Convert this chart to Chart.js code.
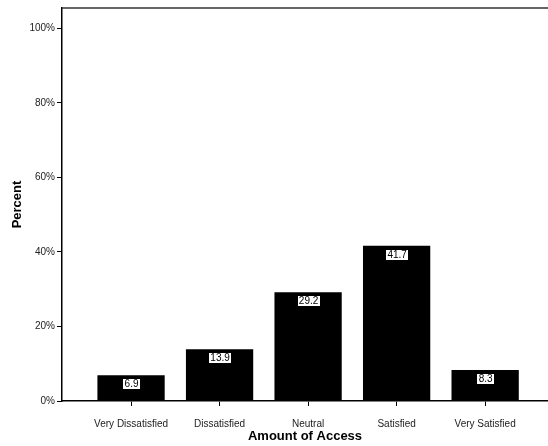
<!DOCTYPE html>
<html>
<head>
<meta charset="utf-8">
<script src="https://cdn.jsdelivr.net/npm/chart.js@4"></script>
<style>
  html, body { margin: 0; padding: 0; background: #fff; }
</style>
</head>
<body>
<canvas id="barChart" width="548" height="446"></canvas>
<script>
// Amount of Access - percent of respondents
const categories = ["Very Dissatisfied", "Dissatisfied", "Neutral", "Satisfied", "Very Satisfied"];
const percents = [6.9, 13.9, 29.2, 41.7, 8.3];
const yTicks = [0, 20, 40, 60, 80, 100];

const font = "'Liberation Sans', Arial, sans-serif";

// white boxed value label just under the top of each bar
const barLabels = {
  id: "barLabels",
  afterDatasetsDraw(chart) {
    const c = chart.ctx;
    const meta = chart.getDatasetMeta(0);
    c.save();
    c.font = "10px " + font;
    c.textAlign = "center";
    c.textBaseline = "middle";
    meta.data.forEach((bar, i) => {
      const txt = percents[i].toFixed(1);
      const w = Math.round(c.measureText(txt).width + 4);
      const h = 11;
      const left = Math.round(bar.x - w / 2);
      const top = Math.round(bar.y + 3);
      c.fillStyle = "#fff";
      c.fillRect(left, top, w, h);
      c.strokeStyle = "#000";
      c.lineWidth = 1;
      c.strokeRect(left + 0.5, top + 0.5, w, h);
      c.fillStyle = "#000";
      c.fillText(txt, bar.x + 0.5, top + h / 2 + 1);
    });
    c.restore();
  }
};

// line along the top of the plot frame
const topLine = {
  id: "topLine",
  afterDraw(chart) {
    const a = chart.chartArea;
    const c = chart.ctx;
    c.save();
    c.strokeStyle = "#333";
    c.lineWidth = 1.5;
    c.beginPath();
    c.moveTo(a.left, a.top);
    c.lineTo(a.right, a.top);
    c.stroke();
    c.restore();
  }
};

const ctx = document.getElementById("barChart");

const chart = new Chart(ctx, {
  type: "bar",
  data: {
    datasets: [
      {
        data: percents.map((v, i) => ({ x: i, y: v })),
        backgroundColor: "#000",
        borderWidth: 0,
        barPercentage: 0.76,
        categoryPercentage: 1,
      },
    ],
  },
  options: {
    responsive: false,
    animation: false,
    layout: { padding: { top: 8, right: 0, left: 0, bottom: 0 } },
    plugins: {
      legend: { display: false },
      tooltip: { enabled: false },
    },
    scales: {
      x: {
        type: "linear",
        offset: false,
        min: -0.78,
        max: 4.71,
        afterBuildTicks: (s) => { s.ticks = categories.map((c, i) => ({ value: i })); },
        afterFit: (s) => { s.height = 45; },
        ticks: {
          callback: (v) => categories[v],
          color: "#222",
          font: { family: font, size: 10 },
          padding: 12,
          maxRotation: 0,
        },
        grid: { offset: false, drawOnChartArea: false, color: "#000", tickLength: 5 },
        border: { color: "#000", width: 1.5 },
        title: {
          display: true,
          text: "Amount of Access",
          color: "#000",
          font: { family: font, size: 13, weight: "bold" },
          padding: { top: 0, bottom: 2 },
        },
      },
      y: {
        min: 0,
        max: 105.5,
        afterBuildTicks: (s) => { s.ticks = yTicks.map((v) => ({ value: v })); },
        afterFit: (s) => { s.width = 62; },
        ticks: {
          callback: (v) => v + "%",
          color: "#222",
          font: { family: font, size: 10 },
          padding: 2,
        },
        grid: { drawOnChartArea: false, color: "#000", tickLength: 5 },
        border: { color: "#000", width: 1.5 },
        title: {
          display: true,
          text: "Percent",
          color: "#000",
          font: { family: font, size: 13, weight: "bold" },
          padding: { top: 10, bottom: 0 },
        },
      },
    },
  },
  plugins: [barLabels, topLine],
});
</script>
</body>
</html>
